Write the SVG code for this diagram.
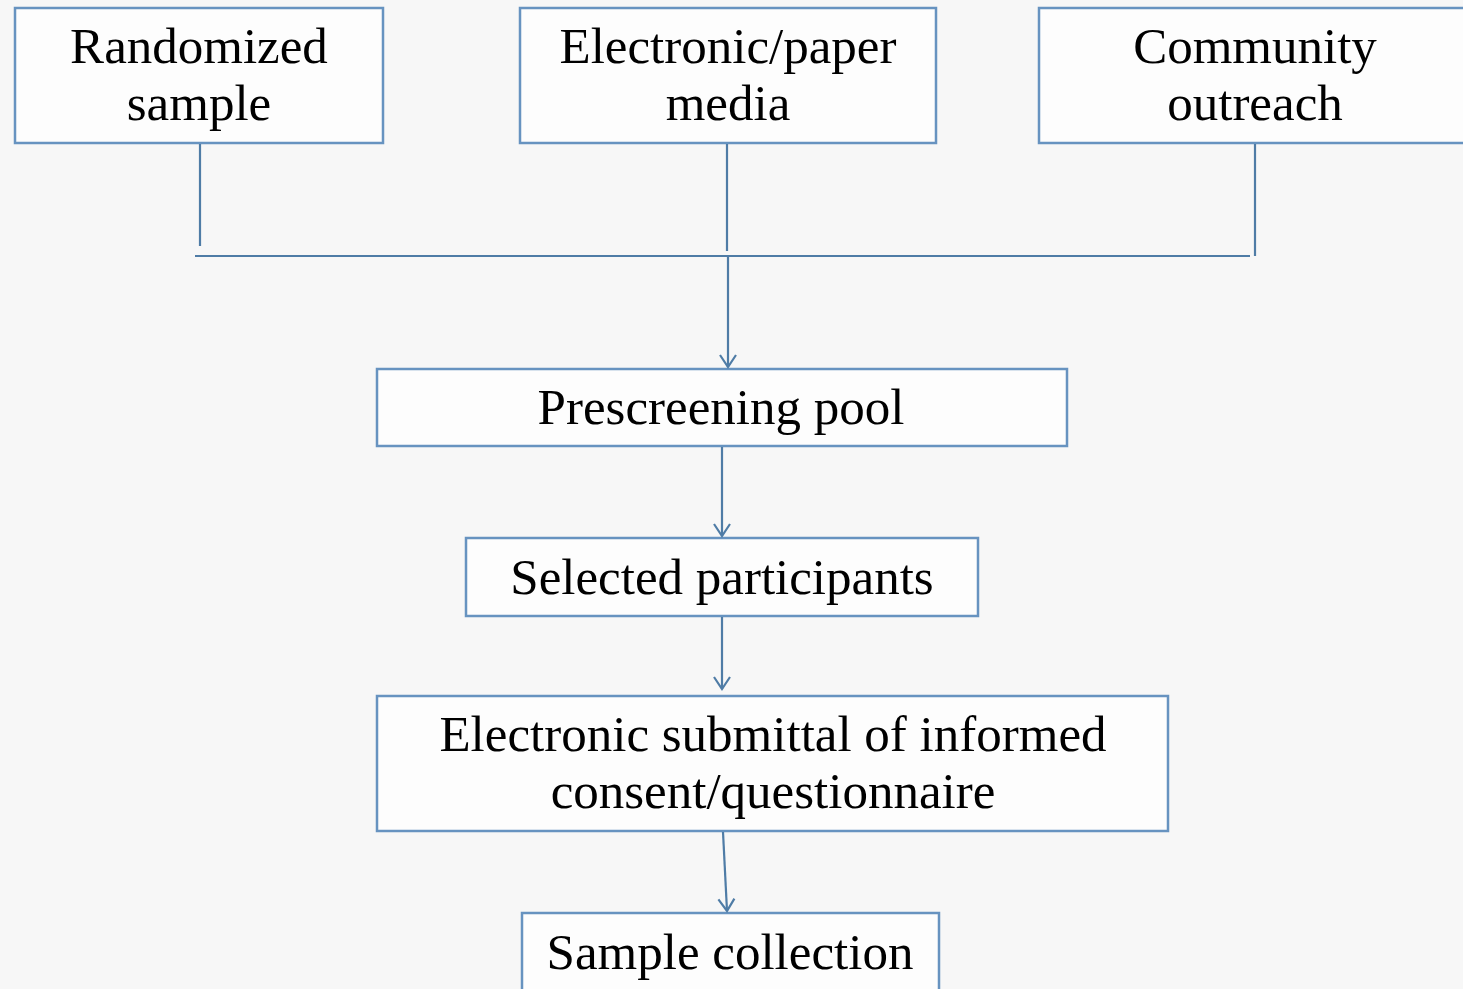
<svg xmlns="http://www.w3.org/2000/svg" width="1463" height="989" viewBox="0 0 1463 989">
<defs>
<style>
.box{fill:#fdfdfd;stroke:#6793c0;stroke-width:2.5}
.con{fill:none;stroke:#4f7ca6;stroke-width:2.2}
text{font-family:"Liberation Serif","DejaVu Serif",serif;font-size:51px;fill:#000;text-anchor:middle}
</style>
<marker id="arr" viewBox="0 0 20 20" refX="18" refY="10" markerWidth="20" markerHeight="20" markerUnits="userSpaceOnUse" orient="auto">
<path d="M6,2 L18,10 L6,18" fill="none" stroke="#4f7ca6" stroke-width="2.2"/>
</marker>
</defs>
<rect width="1463" height="989" fill="#f7f7f7"/>
<g id="n1"><rect class="box" x="15" y="8" width="368" height="135"/><text x="199" y="63">Randomized</text><text x="199" y="120">sample</text></g>
<g id="n2"><rect class="box" x="520" y="8" width="416" height="135"/><text x="728" y="63">Electronic/paper</text><text x="728" y="120">media</text></g>
<g id="n3"><rect class="box" x="1039" y="8" width="430" height="135"/><text x="1255" y="63">Community</text><text x="1255" y="120">outreach</text></g>
<g id="n4"><rect class="box" x="377" y="369" width="690" height="77"/><text x="721" y="424">Prescreening pool</text></g>
<g id="n5"><rect class="box" x="466" y="538" width="512" height="78"/><text x="722" y="594">Selected participants</text></g>
<g id="n6"><rect class="box" x="377" y="696" width="791" height="135"/><text x="773" y="751">Electronic submittal of informed</text><text x="773" y="808">consent/questionnaire</text></g>
<g id="n7"><rect class="box" x="522" y="913" width="417" height="90"/><text x="730" y="969">Sample collection</text></g>
<g id="connectors">
<line class="con" x1="200" y1="144" x2="200" y2="246"/>
<line class="con" x1="727" y1="144" x2="727" y2="251"/>
<line class="con" x1="1255" y1="144" x2="1255" y2="256"/>
<line class="con" x1="195" y1="256" x2="1250" y2="256"/>
<line class="con" x1="728" y1="257" x2="728" y2="367" marker-end="url(#arr)"/>
<line class="con" x1="722" y1="447" x2="722" y2="536" marker-end="url(#arr)"/>
<line class="con" x1="722" y1="617" x2="722" y2="689" marker-end="url(#arr)"/>
<line class="con" x1="723" y1="832" x2="727" y2="911" marker-end="url(#arr)"/>
</g>
</svg>
